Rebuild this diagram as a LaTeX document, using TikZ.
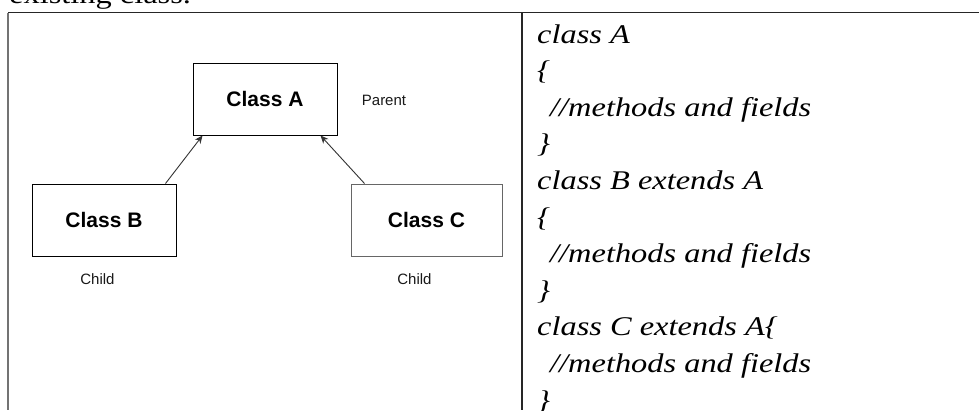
\documentclass[tikz,border=0pt]{standalone}
\usepackage{fontspec}
\setmainfont{Liberation Serif}
\newfontfamily\codefont[FakeStretch=1.2]{Liberation Serif}
\newfontfamily\labfont{Liberation Sans}
\usetikzlibrary{arrows.meta}
\tikzset{
  classbox/.style={draw, line width=1pt, inner sep=0pt, font=\labfont\fontsize{21}{24}\selectfont\bfseries},
  rolelabel/.style={inner sep=0pt, font=\labfont\fontsize{15}{18}\selectfont, text=black!90},
  codeline/.style={anchor=base west, inner sep=0pt, font=\codefont\itshape\fontsize{27}{30}\selectfont},
  inherit/.style={line width=0.9pt, draw=black!80, -{Stealth[length=8pt,width=7pt]}},
  tableline/.style={line width=1.4pt, draw=black!85}
}
\begin{document}
\begin{tikzpicture}[x=1pt,y=-1pt]
\useasboundingbox (0,0) rectangle (979,410);
\clip (0,0) rectangle (979,410);
\fill[white] (0,0) rectangle (979,410);
% cut-off heading
\node[anchor=base west, inner sep=0pt, font=\codefont\fontsize{27}{30}\selectfont] (head) at (9,3) {existing class.};
% table
\coordinate (tl) at (8,12.5);
\coordinate (tr) at (979,12.5);
\coordinate (bl) at (8,410);
\coordinate (mt) at (522,12.5);
\coordinate (mb) at (522,410);
\draw[tableline] (tr) -- (tl);
\draw[line width=2pt, draw=black!55] (tl) -- (bl);
\draw[tableline] (mt) -- (mb);
% diagram
\node[classbox, minimum width=144pt, minimum height=72pt] (a) at (265,99) {Class A};
\node[classbox, minimum width=144pt, minimum height=72pt] (b) at (104,220) {Class B};
\node[classbox, draw=black!60, minimum width=151pt, minimum height=72pt] (c) at (426.5,220) {Class C};
\node[rolelabel] (parent) at (384,100) {Parent};
\node[rolelabel] (childb) at (97.5,279) {Child};
\node[rolelabel] (childc) at (414.5,279) {Child};
\draw[inherit] ([xshift=-11pt]b.north east) -- ([xshift=10pt]a.south west);
\draw[inherit] ([xshift=14pt]c.north west) -- ([xshift=-17pt]a.south east);
% code
\node[codeline] (l0) at (537,43) {class A};
\node[codeline] (l1) at (537,79.6) {\{};
\node[codeline] (l2) at (550,116.2) {//methods and fields};
\node[codeline] (l3) at (537,152.8) {\}};
\node[codeline] (l4) at (537,189.4) {class B extends A};
\node[codeline] (l5) at (537,226) {\{};
\node[codeline] (l6) at (550,262.6) {//methods and fields};
\node[codeline] (l7) at (537,299.2) {\}};
\node[codeline] (l8) at (537,335.8) {class C extends A\{};
\node[codeline] (l9) at (550,372.4) {//methods and fields};
\node[codeline] (l10) at (537,409) {\}};
\end{tikzpicture}
\end{document}
